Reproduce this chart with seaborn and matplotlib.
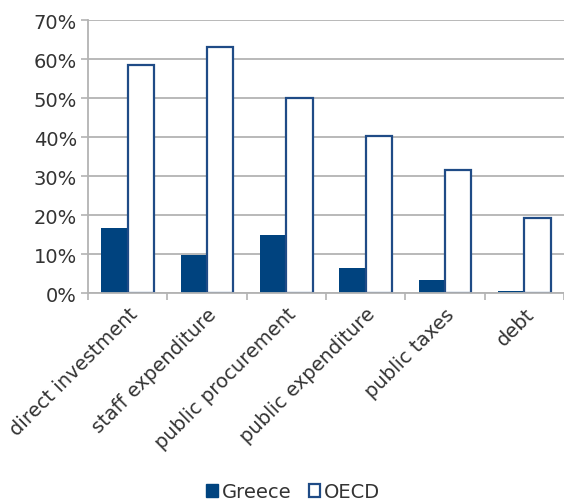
import matplotlib
matplotlib.use("Agg")
import matplotlib.pyplot as plt
import seaborn as sns
import pandas as pd
from matplotlib.patches import Patch

categories = ["direct investment", "staff expenditure", "public procurement",
              "public expenditure", "public taxes", "debt"]
greece = [0.167, 0.098, 0.149, 0.065, 0.033, 0.004]
oecd = [0.585, 0.632, 0.499, 0.403, 0.316, 0.192]
series = ["Greece", "OECD"]
yticks = [0, 0.1, 0.2, 0.3, 0.4, 0.5, 0.6, 0.7]
ytick_labels = ["0%", "10%", "20%", "30%", "40%", "50%", "60%", "70%"]

BLUE = "#00437f"
EDGE = "#1f4b86"
GRID = "#b3b3b3"
TXT = "#333333"
FS = 14

df = pd.DataFrame({
    "category": categories * 2,
    "series": [series[0]] * len(categories) + [series[1]] * len(categories),
    "value": greece + oecd,
})

sns.set_theme(style="white")
plt.rcParams["font.family"] = ["DejaVu Sans"]

fig = plt.figure(figsize=(5.64, 5.02), dpi=100)
ax = fig.add_axes([0.156, 0.4143, 0.8440, 0.5437])

sns.barplot(data=df, x="category", y="value", hue="series",
            palette={"Greece": BLUE, "OECD": "white"}, width=0.667,
            saturation=1, ax=ax, legend=False, linewidth=0)

for bar in ax.containers[1]:
    bar.set_edgecolor(EDGE)
    bar.set_linewidth(1.6)
    bar.set_facecolor("white")

ax.set_ylim(0, 0.7)
ax.set_xlim(-0.5, 5.48)
ax.set_yticks(yticks)
ax.set_yticklabels(ytick_labels, fontsize=FS, color=TXT)
ax.yaxis.grid(True, color=GRID, linewidth=1.3)
ax.set_axisbelow(True)

ax.set_xticks([i - 0.5 for i in range(len(categories) + 1)], minor=False)
ax.set_xticklabels([])
ax.set_xticks(range(len(categories)), minor=True)
ax.set_xticklabels(categories, minor=True, rotation=45, ha="right",
                   rotation_mode="anchor", fontsize=FS, color=TXT)
ax.tick_params(axis="x", which="minor", length=0, pad=8)
ax.tick_params(axis="x", which="major", length=5, color=GRID, width=1.2, direction="out", bottom=True)
ax.tick_params(axis="y", length=5, color=GRID, width=1.2, direction="out", left=True, pad=3)

ax.set_xlabel("")
ax.set_ylabel("")
for s in ["top", "right"]:
    ax.spines[s].set_visible(False)
for s in ["left", "bottom"]:
    ax.spines[s].set_color(GRID)
    ax.spines[s].set_linewidth(1.3)

handles = [Patch(facecolor=BLUE, edgecolor=BLUE, label="Greece"),
           Patch(facecolor="white", edgecolor=EDGE, linewidth=1.6, label="OECD")]
fig.legend(handles=handles, loc="center", bbox_to_anchor=(0.52, 0.018),
           ncol=2, frameon=False, fontsize=FS, handlelength=0.6, handleheight=0.6,
           handletextpad=0.2, columnspacing=0.9, labelcolor=TXT)

fig.savefig("out.png", dpi=100)
